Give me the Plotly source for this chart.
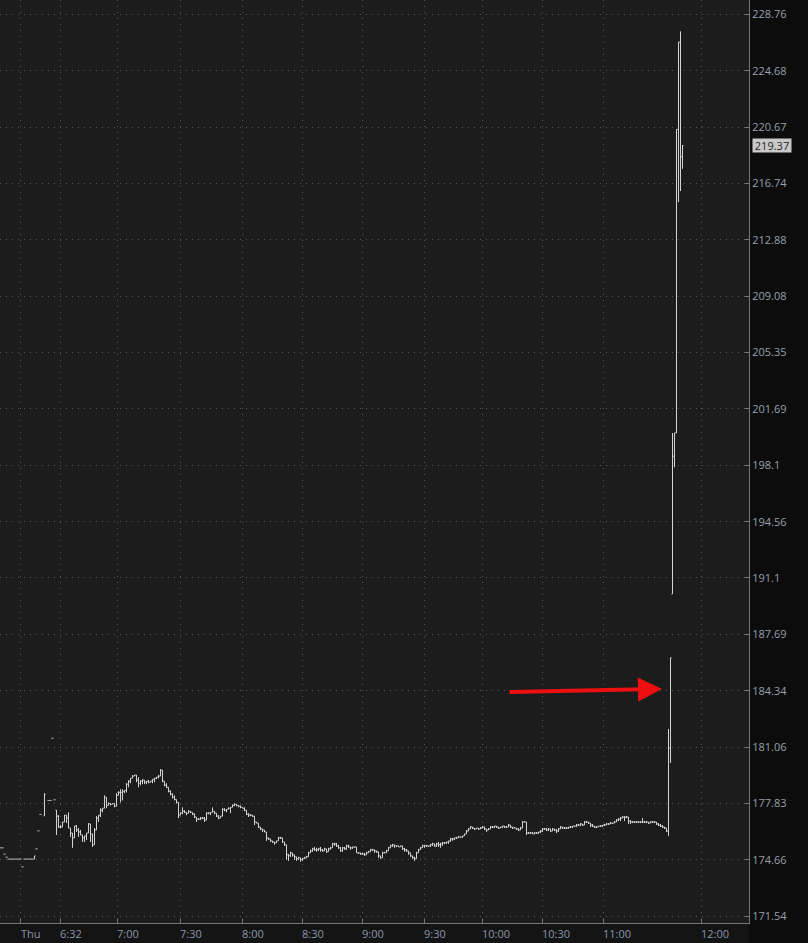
import math
import plotly.graph_objects as go

# ---------------- data ----------------
# pre-market / previous-session bars (bar slot index on the compressed time axis)
pre_slots = [0, 1, 2, 3, 4, 5, 6, 7, 8, 9, 10, 11, 12, 13, 14, 15, 16, 17, 18, 19, 20, 22, 24, 25, 26, 27]
pre_open = [175.33, 175.33, 174.98, 174.81, 174.70, 174.70, 174.70, 174.70, 174.70, 174.70, 174.70, 174.27,
            174.70, 174.70, 174.70, 174.70, 174.70, 174.70, 175.27, 176.28, 177.21, 177.13, 178.00, 178.00,
            181.57, 178.04]
pre_high = [175.33, 175.33, 174.98, 174.81, 174.70, 174.70, 174.70, 174.70, 174.70, 174.70, 174.70, 174.27,
            174.70, 174.70, 174.70, 174.70, 174.70, 174.88, 175.27, 176.28, 177.21, 178.41, 178.00, 178.00,
            181.57, 178.04]
pre_low = [175.33, 175.33, 174.98, 174.81, 174.70, 174.70, 174.70, 174.70, 174.70, 174.70, 174.70, 174.27,
           174.70, 174.70, 174.70, 174.70, 174.70, 174.70, 175.27, 176.28, 177.21, 177.13, 178.00, 178.00,
           181.57, 178.04]
pre_close = [175.33, 175.33, 174.98, 174.81, 174.70, 174.70, 174.70, 174.70, 174.70, 174.70, 174.70, 174.27,
             174.70, 174.70, 174.70, 174.70, 174.70, 174.88, 175.27, 176.28, 177.21, 178.35, 178.00, 178.00,
             181.57, 178.04]

# session 1-minute bars, consecutive slots starting at 28
session_first_slot = 28
sess_open = [
    177.45, 177.11, 176.50, 176.50, 176.78, 177.17, 177.00, 176.44, 176.16, 175.89,
    176.55, 176.33, 176.22, 176.05, 175.89, 176.00, 176.16, 176.67, 176.11, 175.50,
    176.33, 177.00, 177.17, 177.45, 177.56, 178.18, 177.72, 177.83, 177.78, 177.83,
    177.67, 178.29, 178.46, 178.46, 178.52, 178.58, 178.93, 179.10, 179.27, 179.39,
    179.45, 179.16, 178.98, 179.10, 179.16, 179.04, 179.10, 179.04, 179.10, 179.21,
    179.27, 179.33, 179.39, 179.73, 179.10, 178.87, 178.75, 178.52, 178.35, 178.18,
    178.06, 177.89, 177.17, 177.28, 177.39, 177.33, 177.28, 177.39, 177.33, 177.22,
    177.06, 176.94, 176.94, 177.00, 177.00, 176.89, 177.28, 177.28, 177.33, 177.39,
    177.28, 177.11, 177.00, 177.11, 177.50, 177.45, 177.50, 177.56, 177.61, 177.72,
    177.78, 177.72, 177.67, 177.61, 177.56, 177.45, 177.22, 177.17, 177.17, 177.11,
    176.78, 176.72, 176.50, 176.39, 176.33, 176.22, 175.89, 175.83, 175.72, 175.66,
    175.61, 175.72, 175.89, 175.89, 175.66, 175.50, 174.94, 174.88, 175.05, 174.94,
    174.83, 174.72, 174.77, 174.66, 174.72, 174.77, 174.83, 175.05, 175.16, 175.27,
    175.22, 175.22, 175.27, 175.22, 175.16, 175.27, 175.11, 175.27, 175.33, 175.55,
    175.55, 175.44, 175.33, 175.16, 175.33, 175.27, 175.44, 175.38, 175.33, 175.38,
    175.38, 175.05, 175.05, 174.99, 174.99, 174.94, 175.05, 175.11, 175.22, 175.22,
    175.16, 175.11, 174.88, 174.77, 175.05, 175.05, 175.16, 175.33, 175.44, 175.50,
    175.44, 175.44, 175.38, 175.44, 175.27, 175.22, 175.16, 175.05, 174.88, 174.77,
    174.72, 175.05, 175.22, 175.33, 175.44, 175.44, 175.44, 175.44, 175.50, 175.55,
    175.44, 175.55, 175.50, 175.55, 175.61, 175.61, 175.66, 175.72, 175.83, 175.83,
    175.89, 175.89, 175.94, 175.94, 176.00, 176.11, 176.27, 176.39, 176.50, 176.44,
    176.39, 176.44, 176.39, 176.44, 176.50, 176.39, 176.33, 176.39, 176.50, 176.50,
    176.55, 176.50, 176.44, 176.50, 176.55, 176.50, 176.50, 176.61, 176.50, 176.44,
    176.44, 176.39, 176.33, 176.44, 176.78, 176.78, 176.16, 176.16, 176.16, 176.11,
    176.16, 176.16, 176.22, 176.27, 176.39, 176.39, 176.33, 176.39, 176.27, 176.39,
    176.33, 176.27, 176.39, 176.50, 176.44, 176.44, 176.44, 176.50, 176.50, 176.55,
    176.55, 176.61, 176.61, 176.67, 176.61, 176.78, 176.78, 176.72, 176.61, 176.55,
    176.50, 176.50, 176.55, 176.55, 176.61, 176.61, 176.67, 176.67, 176.72, 176.72,
    176.78, 176.89, 176.94, 177.00, 177.06, 177.06, 177.06, 176.83, 176.78, 176.78,
    176.78, 176.78, 176.78, 176.78, 176.78, 176.78, 176.78, 176.72, 176.78, 176.78,
    176.78, 176.67, 176.61, 176.55, 176.50, 176.44,
    176.27, 181.00, 190.13, 198.67, 200.15, 220.51, 226.74, 218.59,
]
sess_high = [
    177.45, 177.17, 176.61, 176.78, 177.17, 177.17, 177.33, 176.44, 176.16, 176.55,
    176.61, 176.44, 176.33, 176.05, 176.00, 176.16, 176.72, 176.67, 176.11, 176.44,
    177.11, 177.17, 177.56, 177.56, 178.29, 178.18, 177.89, 177.83, 177.83, 177.83,
    178.41, 178.52, 178.64, 178.64, 178.58, 178.98, 179.16, 179.27, 179.45, 179.45,
    179.45, 179.33, 179.16, 179.21, 179.16, 179.10, 179.16, 179.10, 179.21, 179.27,
    179.33, 179.45, 179.79, 179.73, 179.10, 178.98, 178.75, 178.58, 178.41, 178.29,
    178.06, 177.89, 177.33, 177.61, 177.45, 177.33, 177.45, 177.39, 177.33, 177.28,
    177.06, 177.00, 177.06, 177.06, 177.06, 177.33, 177.33, 177.33, 177.61, 177.39,
    177.28, 177.17, 177.11, 177.56, 177.56, 177.50, 177.61, 177.61, 177.78, 177.83,
    177.78, 177.72, 177.72, 177.61, 177.61, 177.45, 177.28, 177.22, 177.17, 177.11,
    176.78, 176.72, 176.50, 176.39, 176.33, 176.22, 175.89, 175.83, 175.72, 175.66,
    175.72, 175.94, 175.94, 175.89, 175.66, 175.50, 174.99, 175.11, 175.05, 174.94,
    174.83, 174.83, 174.77, 174.77, 174.83, 174.88, 175.11, 175.22, 175.33, 175.38,
    175.33, 175.33, 175.38, 175.27, 175.33, 175.27, 175.33, 175.38, 175.61, 175.61,
    175.61, 175.50, 175.38, 175.38, 175.38, 175.50, 175.50, 175.38, 175.38, 175.38,
    175.38, 175.05, 175.05, 175.05, 175.05, 175.11, 175.16, 175.27, 175.27, 175.22,
    175.16, 175.11, 174.88, 175.11, 175.11, 175.22, 175.38, 175.50, 175.55, 175.50,
    175.44, 175.44, 175.44, 175.44, 175.33, 175.27, 175.16, 175.05, 174.88, 174.83,
    175.11, 175.27, 175.38, 175.50, 175.50, 175.50, 175.44, 175.55, 175.61, 175.55,
    175.61, 175.66, 175.61, 175.66, 175.66, 175.66, 175.72, 175.89, 175.89, 175.89,
    175.94, 176.00, 175.94, 176.00, 176.11, 176.33, 176.44, 176.55, 176.50, 176.44,
    176.44, 176.44, 176.50, 176.55, 176.50, 176.39, 176.44, 176.55, 176.55, 176.55,
    176.55, 176.50, 176.50, 176.55, 176.55, 176.55, 176.67, 176.61, 176.50, 176.50,
    176.44, 176.44, 176.50, 176.83, 176.83, 176.78, 176.22, 176.22, 176.22, 176.22,
    176.22, 176.22, 176.33, 176.44, 176.44, 176.44, 176.44, 176.39, 176.44, 176.39,
    176.39, 176.44, 176.55, 176.50, 176.50, 176.50, 176.50, 176.55, 176.55, 176.55,
    176.67, 176.67, 176.72, 176.67, 176.83, 176.83, 176.78, 176.72, 176.67, 176.55,
    176.55, 176.55, 176.61, 176.61, 176.67, 176.72, 176.72, 176.78, 176.72, 176.83,
    176.94, 177.00, 177.06, 177.11, 177.11, 177.11, 177.06, 176.89, 176.83, 176.83,
    176.83, 176.83, 176.83, 177.00, 176.83, 176.83, 176.78, 176.83, 176.83, 176.83,
    176.78, 176.72, 176.67, 176.61, 176.50, 176.44,
    182.11, 186.30, 200.15, 200.15, 220.51, 226.74, 227.52, 219.41,
]
sess_low = [
    176.05, 176.44, 176.44, 176.50, 176.78, 176.72, 176.44, 175.94, 175.33, 175.89,
    176.22, 175.94, 176.05, 175.66, 175.66, 175.77, 176.16, 175.66, 175.38, 175.50,
    176.33, 176.78, 177.06, 177.33, 177.56, 177.56, 177.72, 177.72, 177.78, 177.61,
    177.67, 178.29, 177.89, 178.00, 178.41, 178.46, 178.75, 178.98, 179.27, 179.39,
    179.04, 178.75, 178.87, 178.93, 178.93, 178.93, 178.98, 179.04, 178.98, 179.04,
    179.21, 179.27, 179.39, 179.04, 178.81, 178.70, 178.46, 178.29, 178.12, 178.00,
    177.83, 177.00, 177.17, 177.22, 177.28, 177.17, 177.28, 177.28, 177.17, 177.00,
    176.78, 176.89, 176.89, 176.94, 176.78, 176.89, 177.22, 177.17, 177.33, 177.22,
    177.06, 176.94, 177.00, 177.11, 177.39, 177.33, 177.50, 177.28, 177.61, 177.67,
    177.67, 177.61, 177.56, 177.56, 177.39, 177.17, 177.06, 177.11, 177.06, 176.61,
    176.72, 176.44, 176.33, 176.22, 176.22, 175.72, 175.77, 175.66, 175.61, 175.50,
    175.61, 175.72, 175.83, 175.61, 175.44, 174.66, 174.60, 174.83, 174.83, 174.66,
    174.60, 174.66, 174.55, 174.60, 174.72, 174.77, 174.83, 175.05, 175.11, 175.16,
    175.11, 175.16, 175.11, 175.11, 175.16, 175.05, 175.11, 175.22, 175.33, 175.44,
    175.38, 175.27, 175.11, 175.11, 175.22, 175.22, 175.33, 175.22, 175.27, 175.33,
    175.05, 174.99, 174.94, 174.94, 174.88, 174.94, 175.05, 175.11, 175.16, 175.05,
    175.05, 174.77, 174.72, 174.77, 175.05, 175.05, 175.16, 175.33, 175.38, 175.33,
    175.38, 175.38, 175.38, 175.22, 175.11, 175.11, 174.94, 174.83, 174.72, 174.60,
    174.72, 175.05, 175.22, 175.33, 175.33, 175.38, 175.38, 175.38, 175.44, 175.38,
    175.38, 175.38, 175.33, 175.44, 175.55, 175.55, 175.55, 175.66, 175.72, 175.77,
    175.83, 175.89, 175.89, 175.89, 176.00, 176.11, 176.27, 176.39, 176.39, 176.33,
    176.39, 176.33, 176.39, 176.44, 176.33, 176.22, 176.33, 176.39, 176.44, 176.44,
    176.44, 176.39, 176.44, 176.44, 176.44, 176.44, 176.50, 176.44, 176.39, 176.44,
    176.33, 176.27, 176.33, 176.44, 176.78, 176.05, 176.11, 176.11, 176.11, 176.11,
    176.11, 176.11, 176.16, 176.22, 176.33, 176.27, 176.27, 176.22, 176.27, 176.27,
    176.16, 176.22, 176.39, 176.39, 176.39, 176.39, 176.39, 176.44, 176.44, 176.50,
    176.50, 176.55, 176.55, 176.55, 176.61, 176.72, 176.67, 176.50, 176.50, 176.44,
    176.44, 176.50, 176.50, 176.50, 176.55, 176.61, 176.61, 176.67, 176.67, 176.72,
    176.78, 176.83, 176.83, 177.00, 176.83, 177.00, 176.67, 176.67, 176.72, 176.72,
    176.72, 176.72, 176.72, 176.72, 176.72, 176.72, 176.67, 176.72, 176.72, 176.72,
    176.61, 176.55, 176.50, 176.44, 176.39, 176.22,
    176.00, 180.14, 190.13, 197.97, 200.15, 215.45, 216.21, 217.75,
]
sess_close = [
    177.11, 176.50, 176.50, 176.78, 177.17, 177.00, 176.44, 176.16, 175.89, 176.55,
    176.33, 176.22, 176.05, 175.89, 176.00, 176.16, 176.67, 176.11, 175.50, 176.33,
    177.00, 177.17, 177.45, 177.56, 178.18, 177.72, 177.83, 177.78, 177.83, 177.67,
    178.29, 178.46, 178.46, 178.52, 178.58, 178.93, 179.10, 179.27, 179.39, 179.45,
    179.16, 178.98, 179.10, 179.16, 179.04, 179.10, 179.04, 179.10, 179.21, 179.27,
    179.33, 179.39, 179.73, 179.10, 178.87, 178.75, 178.52, 178.35, 178.18, 178.06,
    177.89, 177.17, 177.28, 177.39, 177.33, 177.28, 177.39, 177.33, 177.22, 177.06,
    176.94, 176.94, 177.00, 177.00, 176.89, 177.28, 177.28, 177.33, 177.39, 177.28,
    177.11, 177.00, 177.11, 177.50, 177.45, 177.50, 177.56, 177.61, 177.72, 177.78,
    177.72, 177.67, 177.61, 177.56, 177.45, 177.22, 177.17, 177.17, 177.11, 176.78,
    176.72, 176.50, 176.39, 176.33, 176.22, 175.89, 175.83, 175.72, 175.66, 175.61,
    175.72, 175.89, 175.89, 175.66, 175.50, 174.94, 174.88, 175.05, 174.94, 174.83,
    174.72, 174.77, 174.66, 174.72, 174.77, 174.83, 175.05, 175.16, 175.27, 175.22,
    175.22, 175.27, 175.22, 175.16, 175.27, 175.11, 175.27, 175.33, 175.55, 175.55,
    175.44, 175.33, 175.16, 175.33, 175.27, 175.44, 175.38, 175.33, 175.38, 175.38,
    175.05, 175.05, 174.99, 174.99, 174.94, 175.05, 175.11, 175.22, 175.22, 175.16,
    175.11, 174.88, 174.77, 175.05, 175.05, 175.16, 175.33, 175.44, 175.50, 175.44,
    175.44, 175.38, 175.44, 175.27, 175.22, 175.16, 175.05, 174.88, 174.77, 174.72,
    175.05, 175.22, 175.33, 175.44, 175.44, 175.44, 175.44, 175.50, 175.55, 175.44,
    175.55, 175.50, 175.55, 175.61, 175.61, 175.66, 175.72, 175.83, 175.83, 175.89,
    175.89, 175.94, 175.94, 176.00, 176.11, 176.27, 176.39, 176.50, 176.44, 176.39,
    176.44, 176.39, 176.44, 176.50, 176.39, 176.33, 176.39, 176.50, 176.50, 176.55,
    176.50, 176.44, 176.50, 176.55, 176.50, 176.50, 176.61, 176.50, 176.44, 176.44,
    176.39, 176.33, 176.44, 176.78, 176.78, 176.16, 176.16, 176.16, 176.11, 176.16,
    176.16, 176.22, 176.27, 176.39, 176.39, 176.33, 176.39, 176.27, 176.39, 176.33,
    176.27, 176.39, 176.50, 176.44, 176.44, 176.44, 176.50, 176.50, 176.55, 176.55,
    176.61, 176.61, 176.67, 176.61, 176.78, 176.78, 176.72, 176.61, 176.55, 176.50,
    176.50, 176.55, 176.55, 176.61, 176.61, 176.67, 176.67, 176.72, 176.72, 176.78,
    176.89, 176.94, 177.00, 177.06, 177.06, 177.06, 176.83, 176.78, 176.78, 176.78,
    176.78, 176.78, 176.78, 176.78, 176.78, 176.78, 176.72, 176.78, 176.78, 176.78,
    176.67, 176.61, 176.55, 176.50, 176.44, 176.27,
    181.00, 186.30, 198.67, 200.15, 220.51, 226.74, 218.59, 219.37,
]

# axis labels
price_ticks = [228.76, 224.68, 220.67, 216.74, 212.88, 209.08, 205.35, 201.69, 198.1,
               194.56, 191.1, 187.69, 184.34, 181.06, 177.83, 174.66, 171.54]
price_tick_text = ["228.76", "224.68", "220.67", "216.74", "212.88", "209.08", "205.35", "201.69", "198.1",
                   "194.56", "191.1", "187.69", "184.34", "181.06", "177.83", "174.66", "171.54"]
time_labels = ["Thu", "6:32", "7:00", "7:30", "8:00", "8:30", "9:00", "9:30", "10:00", "10:30", "11:00", "12:00"]
time_label_slots = [10.1, 29.75, 58.25, 89.75, 120.75, 150.75, 180.75, 211.75, 240.75, 270.75, 301.25, 350.25]

# ---------------- figure ----------------
session_slots = list(range(session_first_slot, session_first_slot + len(sess_close)))
xs = pre_slots + session_slots
bar_col = "#d4d4d4"

fig = go.Figure()
fig.add_trace(go.Ohlc(
    x=xs,
    open=pre_open + sess_open,
    high=pre_high + sess_high,
    low=pre_low + sess_low,
    close=pre_close + sess_close,
    increasing=dict(line=dict(color=bar_col, width=1)),
    decreasing=dict(line=dict(color=bar_col, width=1)),
    tickwidth=0.5,
    hoverinfo="skip",
    showlegend=False,
))

W, H = 808, 943
ML, MR, MT, MB = 0, 59, 0, 20
plot_h = H - MT - MB

lo_tick, hi_tick = math.log10(min(price_ticks)), math.log10(max(price_ticks))
px_per_log = (916.3 - 14.3) / (hi_tick - lo_tick)
y_range = [lo_tick - (plot_h - 916.3) / px_per_log, hi_tick + 14.3 / px_per_log]

axis_col = "#767676"
grid_col = "#565656"
label_col = "#97a0ab"
font_fam = "Open Sans, Noto Sans, DejaVu Sans, sans-serif"

annotations = []
for lab, s in zip(time_labels, time_label_slots):
    annotations.append(dict(
        x=s, xref="x", y=0, yref="paper", text=lab, showarrow=False,
        xanchor="left", yanchor="middle", xshift=-2, yshift=-10,
        font=dict(family=font_fam, size=11, color="#8996a8"),
    ))

last_price = sess_close[-1]
annotations.append(dict(
    x=1, xref="paper", y=math.log10(last_price), yref="y",
    text=f"{last_price:.2f}", showarrow=False, xanchor="left", yanchor="middle",
    xshift=3, bgcolor="#c9c9c9", borderpad=0, width=38, height=13,
    font=dict(family=font_fam, size=11, color="#262626"),
))

# red arrow annotation
annotations.append(dict(
    x=662 / (W - ML - MR), xref="paper", y=1 - 689 / plot_h, yref="paper",
    ax=-154, ay=3, axref="pixel", ayref="pixel", text="", showarrow=True,
    arrowhead=2, arrowsize=1.2, arrowwidth=4, arrowcolor="#ee1010", standoff=0,
))

fig.update_layout(
    width=W, height=H,
    margin=dict(l=ML, r=MR, t=MT, b=MB, pad=0),
    paper_bgcolor="#0c0c0c",
    plot_bgcolor="#1c1c1c",
    showlegend=False,
    annotations=annotations,
    shapes=[dict(type="rect", xref="paper", yref="paper", x0=0, x1=1, y0=-MB / plot_h, y1=0,
                 fillcolor="#141414", line=dict(width=0), layer="below")],
    xaxis=dict(
        range=[-0.25, 374.25],
        tickvals=time_label_slots,
        showticklabels=False,
        ticks="inside", ticklen=4, tickcolor=axis_col,
        showline=True, linecolor=axis_col, linewidth=1,
        showgrid=True, gridcolor=grid_col, gridwidth=1, griddash="1px,5px",
        zeroline=False, rangeslider=dict(visible=False), fixedrange=True,
    ),
    yaxis=dict(
        type="log", side="right", range=y_range,
        tickvals=price_ticks, ticktext=price_tick_text,
        ticks="inside", ticklen=4, tickcolor=axis_col,
        showline=True, linecolor=axis_col, linewidth=1,
        showgrid=True, gridcolor=grid_col, gridwidth=1, griddash="1px,5px",
        zeroline=False, fixedrange=True,
        tickfont=dict(family=font_fam, size=11, color=label_col),
    ),
)

fig.write_html(
    "out.html",
    config={"displayModeBar": False},
    post_script="document.body.style.margin='0';document.body.style.background='#0c0c0c';",
)
